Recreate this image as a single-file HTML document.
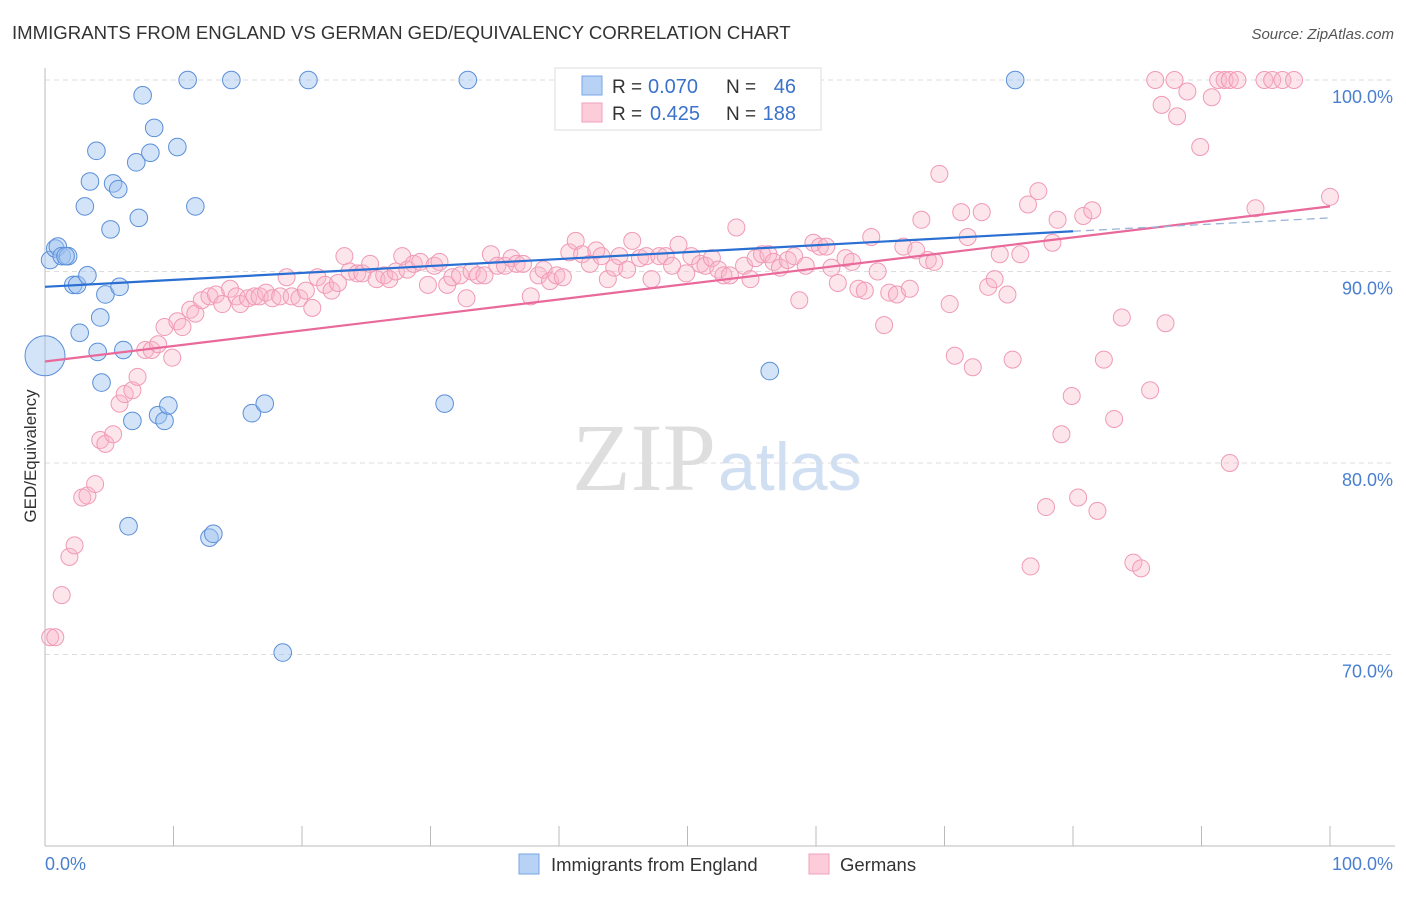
<!DOCTYPE html>
<html><head><meta charset="utf-8"><style>
body{margin:0;background:#fff;font-family:"Liberation Sans",sans-serif}
</style></head><body>
<svg width="1406" height="892" xmlns="http://www.w3.org/2000/svg" id="chart">
<text x="12" y="39" font-size="18.6" fill="#333">IMMIGRANTS FROM ENGLAND VS GERMAN GED/EQUIVALENCY CORRELATION CHART</text>
<text x="1394" y="39" font-size="15" fill="#555" font-style="italic" text-anchor="end">Source: ZipAtlas.com</text>
<text x="716" y="490" font-size="96" fill="#dedede" text-anchor="end" font-family="Liberation Serif">ZIP</text>
<text x="718" y="490" font-size="68" fill="#d0dff2">atlas</text>
<g id="grid"></g>
<g id="axes"></g>
<g id="points"></g>
<g id="trends"></g>
<text x="36" y="456" font-size="17" fill="#333" text-anchor="middle" transform="rotate(-90 36 456)">GED/Equivalency</text>
<text x="45" y="870" font-size="18" fill="#4a7fd0">0.0%</text>
<text x="1393" y="870" font-size="18" fill="#4a7fd0" text-anchor="end">100.0%</text>
<g>
<rect x="555" y="68" width="266" height="62" fill="#fff" stroke="#ddd"/>
<rect x="582" y="76" width="20" height="19" fill="#b7d2f5" stroke="#7aa6e6"/>
<text x="612" y="93" font-size="19" fill="#333">R =</text>
<text x="648" y="93" font-size="20" fill="#3a72cc">0.070</text>
<text x="726" y="93" font-size="19" fill="#333">N =</text>
<text x="796" y="93" font-size="20" fill="#3a72cc" text-anchor="end">46</text>
<rect x="582" y="103" width="20" height="19" fill="#fcccda" stroke="#f2a2bb"/>
<text x="612" y="120" font-size="19" fill="#333">R =</text>
<text x="650" y="120" font-size="20" fill="#3a72cc">0.425</text>
<text x="726" y="120" font-size="19" fill="#333">N =</text>
<text x="796" y="120" font-size="20" fill="#3a72cc" text-anchor="end">188</text>
</g>
<g>
<rect x="519" y="854" width="20" height="20" fill="#b7d2f5" stroke="#7aa6e6"/>
<text x="551" y="871" font-size="18.5" fill="#333">Immigrants from England</text>
<rect x="809" y="854" width="20" height="20" fill="#fcccda" stroke="#f2a2bb"/>
<text x="840" y="871" font-size="18.5" fill="#333">Germans</text>
</g>
</svg>
<script>
const yTicks=[100,90,80,70];
const yTickLabels=["100.0%","90.0%","80.0%","70.0%"];
const xTicks=[0,10,20,30,40,50,60,70,80,90,100];
const blueX=[0.4,0.8,1.0,1.3,1.8,1.6,2.2,2.5,3.3,2.7,4.1,4.7,4.3,5.8,6.1,4.4,6.8,6.5,8.8,9.3,9.6,16.1,17.1,12.8,13.1,18.5,31.1,56.4,7.6,8.5,4.0,7.1,8.2,10.3,3.5,5.3,5.7,3.1,5.1,7.3,11.7,11.1,14.5,20.5,32.9,75.5];
const blueY=[90.6,91.2,91.3,90.8,90.8,90.8,89.3,89.3,89.8,86.8,85.8,88.8,87.6,89.2,85.9,84.2,82.2,76.7,82.5,82.2,83.0,82.6,83.1,76.1,76.3,70.1,83.1,84.8,99.2,97.5,96.3,95.7,96.2,96.5,94.7,94.6,94.3,93.4,92.2,92.8,93.4,100,100,100,100,100];
const blueBigX=[0], blueBigY=[85.6];
const pinkX=[0.4,0.8,1.3,1.9,2.3,2.9,3.3,3.9,4.3,4.7,5.3,5.8,6.2,6.8,7.2,7.8,8.3,8.8,9.3,9.9,10.3,10.7,11.3,11.7,12.2,12.8,13.3,13.8,14.4,14.9,15.2,15.8,16.3,16.7,17.2,17.7,18.3,18.8,19.2,19.8,20.3,20.8,21.2,21.8,22.3,22.8,23.3,23.7,24.3,24.7,25.3,25.8,26.4,26.8,27.3,27.8,28.2,28.7,29.2,29.8,30.3,30.7,31.3,31.7,32.3,32.8,33.2,33.7,34.2,34.7,35.2,35.8,36.3,36.7,37.2,37.8,38.4,38.8,39.3,39.8,40.3,40.8,41.3,41.8,42.4,42.9,43.3,43.8,44.3,44.7,45.3,45.7,46.3,46.8,47.2,47.8,48.3,48.8,49.3,49.9,50.3,51.0,51.4,51.9,52.4,52.8,53.3,53.8,54.4,54.9,55.3,55.8,56.3,56.7,57.2,57.8,58.3,58.7,59.2,59.8,60.3,60.8,61.2,61.7,62.3,62.8,63.3,63.8,64.3,64.8,65.3,65.7,66.3,66.8,67.3,67.8,68.2,68.7,69.2,69.6,70.4,70.8,71.3,71.8,72.2,72.9,73.4,73.9,74.3,74.9,75.3,75.9,76.5,77.3,77.9,78.4,78.8,79.1,79.9,80.4,80.8,81.5,81.9,82.4,83.2,83.8,84.7,85.3,86.0,87.2,76.7,92.2,86.4,86.9,87.9,88.1,88.9,89.9,90.8,91.3,91.8,92.2,92.8,94.9,95.5,96.3,97.2,94.2,100];
const pinkY=[70.9,70.9,73.1,75.1,75.7,78.2,78.3,78.9,81.2,81.0,81.5,83.1,83.6,83.8,84.5,85.9,85.9,86.2,87.1,85.5,87.4,87.1,88.0,87.8,88.5,88.7,88.8,88.3,89.1,88.7,88.3,88.6,88.7,88.7,88.9,88.6,88.7,89.7,88.7,88.6,89.0,88.1,89.7,89.3,89.0,89.4,90.8,90.0,89.9,89.9,90.4,89.6,89.8,89.6,90.0,90.8,90.1,90.4,90.5,89.3,90.3,90.5,89.3,89.7,89.8,88.6,90.0,89.8,89.8,90.9,90.3,90.3,90.7,90.4,90.4,88.7,89.8,90.1,89.5,89.8,89.7,91.0,91.6,90.9,90.4,91.1,90.8,89.6,90.2,90.8,90.1,91.6,90.7,90.8,89.6,90.8,90.8,90.3,91.4,89.9,90.8,90.4,90.3,90.7,90.1,89.8,89.8,92.3,90.3,89.6,90.7,90.9,90.9,90.5,90.2,90.6,90.8,88.5,90.3,91.5,91.3,91.3,90.2,89.4,90.7,90.5,89.1,89.0,91.8,90.0,87.2,88.9,88.8,91.3,89.1,91.1,92.7,90.6,90.5,95.1,88.3,85.6,93.1,91.8,85.0,93.1,89.2,89.6,90.9,88.8,85.4,90.9,93.5,94.2,77.7,91.5,92.7,81.5,83.5,78.2,92.9,93.2,77.5,85.4,82.3,87.6,74.8,74.5,83.8,87.3,74.6,80.0,100,98.7,100,98.1,99.4,96.5,99.1,100,100,100,100,100,100,100,100,93.3,93.9];
const blueTrend=[[0,89.2],[80,92.1]];
const blueTrendExt=[[80,92.1],[100,92.8]];
const pinkTrend=[[0,85.3],[100,93.4]];

const NS="http://www.w3.org/2000/svg";
const X0=45,X1=1330,YTOP=80,PX10=19.15;
const sx=v=>X0+(X1-X0)*v/100;
const sy=v=>YTOP+(100-v)*PX10;
function mk(tag,attrs,parent){const e=document.createElementNS(NS,tag);for(const k in attrs)e.setAttribute(k,attrs[k]);parent.appendChild(e);return e;}
const grid=document.getElementById('grid'),axes=document.getElementById('axes'),pts=document.getElementById('points'),tr=document.getElementById('trends');
yTicks.forEach((t,i)=>{
  const l=mk('line',{x1:X0,x2:1395,y1:sy(t),y2:sy(t),stroke:'#ddd','stroke-dasharray':'5,4'},grid);
  
  
  const tx=mk('text',{x:1393,y:sy(t)+23,'font-size':18,fill:'#4a7fd0','text-anchor':'end'},grid);
  tx.textContent=yTickLabels[i];
  
  
});
const ax=mk('line',{x1:X0,x2:1395,y1:846,y2:846,stroke:'#bbb'},axes);


const ay=mk('line',{x1:X0,x2:X0,y1:68,y2:846,stroke:'#bbb'},axes);


xTicks.forEach(t=>{
  const l=mk('line',{x1:sx(t),x2:sx(t),y1:826,y2:846,stroke:'#bbb'},axes);
  
  
});
pinkX.forEach((x,i)=>{
  const c=mk('circle',{cx:sx(x),cy:sy(pinkY[i]),r:8.5,fill:'rgba(248,180,200,0.35)',stroke:'#f09ab6','stroke-width':1},pts);
  
  
});
blueX.forEach((x,i)=>{
  const c=mk('circle',{cx:sx(x),cy:sy(blueY[i]),r:8.8,fill:'rgba(160,196,240,0.45)',stroke:'#5b8fd8','stroke-width':1},pts);
  
  
});
blueBigX.forEach((x,i)=>{
  const c=mk('circle',{cx:sx(x),cy:sy(blueBigY[i]),r:20,fill:'rgba(160,196,240,0.45)',stroke:'#5b8fd8','stroke-width':1},pts);
  
  
});
function line(p,color,dash,name,w){
  const l=mk('line',{x1:sx(p[0][0]),y1:sy(p[0][1]),x2:sx(p[1][0]),y2:sy(p[1][1]),stroke:color,'stroke-width':w},tr);
  if(dash)l.setAttribute('stroke-dasharray',dash);
  
  
}
line(pinkTrend,'#e8699a',null,'germans-trend-line',2.2);
line(blueTrend,'#2a6fd2',null,'england-trend-line',2.2);
line(blueTrendExt,'#9ab4d8','8,5','england-trend-extension',1.3);
</script>
</body></html>
